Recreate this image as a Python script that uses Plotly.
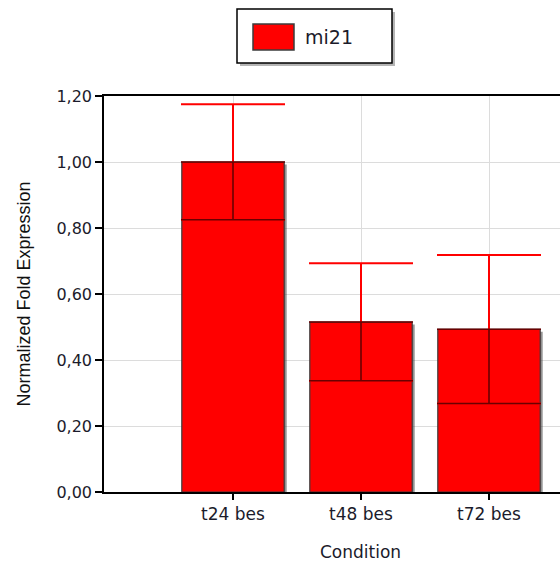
import plotly.graph_objects as go

# Normalized fold expression of mi21 per condition, with symmetric errors
conditions = ["t24 bes", "t48 bes", "t72 bes"]
fold_expression = [1.00, 0.515, 0.493]
fold_error = [0.175, 0.178, 0.225]
series_name = "mi21"

y_ticks = [0.0, 0.2, 0.4, 0.6, 0.8, 1.0, 1.2]

W, H = 560, 564
L, R, T, B = 104, 0, 96, 72
plot_w = W - L - R
plot_h = H - T - B
px_x = 128.0          # pixels per category step
px_y = plot_h / 1.2   # pixels per unit on the y axis
first_center_px = 233  # pixel column of the first category


def px_to_paper_x(px):
    return (px - L) / plot_w


def px_to_paper_y(py):
    return (H - B - py) / plot_h


x_idx = list(range(len(conditions)))
bar_w = 0.8
x_left = -(first_center_px - L) / px_x
x_right = x_left + plot_w / px_x

fig = go.Figure()

# soft drop shadow behind each bar
fig.add_trace(go.Bar(
    x=x_idx,
    y=[v - 2.5 / px_y for v in fold_expression],
    width=bar_w,
    offset=-bar_w / 2 + 2.5 / px_x,
    marker=dict(color="rgba(60,60,60,0.55)", line=dict(width=0)),
    hoverinfo="skip",
    showlegend=False,
))

# the bars with red error whiskers
fig.add_trace(go.Bar(
    x=x_idx,
    y=fold_expression,
    width=bar_w,
    name=series_name,
    marker=dict(color="#ff0000", line=dict(color="#3c3c3c", width=1.2)),
    error_y=dict(type="data", array=fold_error, visible=True,
                 color="#ff0000", thickness=2, width=52),
    showlegend=False,
))

# lower half of each whisker reads dark against the red fill
fig.add_trace(go.Scatter(
    x=x_idx,
    y=fold_expression,
    mode="markers",
    marker=dict(size=1, color="rgba(0,0,0,0)"),
    error_y=dict(type="data", symmetric=False,
                 array=[0] * len(fold_error), arrayminus=fold_error,
                 visible=True, color="#6a0000", thickness=1.6, width=52),
    hoverinfo="skip",
    showlegend=False,
))

font_main = "DejaVu Sans"
text_col = "#1b1b2b"

fig.update_layout(
    width=W, height=H,
    margin=dict(l=L, r=R, t=T, b=B, pad=0),
    paper_bgcolor="white",
    plot_bgcolor="white",
    barmode="overlay",
    separators=",.",
    showlegend=False,
    xaxis=dict(
        range=[x_left, x_right],
        tickmode="array",
        tickvals=x_idx,
        ticktext=conditions,
        ticks="outside", ticklen=6, tickwidth=1.5, tickcolor="black",
        showline=True, linecolor="black", linewidth=1.5, mirror=True,
        showgrid=True, gridcolor="#dcdcdc", gridwidth=1,
        zeroline=False,
        tickfont=dict(family=font_main, size=17, color=text_col),
        fixedrange=True,
    ),
    yaxis=dict(
        range=[0, 1.2],
        tickmode="array",
        tickvals=y_ticks,
        tickformat=".2f",
        ticks="outside", ticklen=7, tickwidth=1.5, tickcolor="black",
        showline=True, linecolor="black", linewidth=1.5,
        showgrid=True, gridcolor="#dcdcdc", gridwidth=1,
        zeroline=False,
        tickfont=dict(family=font_main, size=16, color=text_col),
        title=dict(text="Normalized Fold Expression",
                   font=dict(family="Liberation Sans", size=18, color="#111"),
                   standoff=21),
    ),
)

# x axis title
fig.add_annotation(
    text="Condition", xref="paper", yref="paper",
    x=px_to_paper_x(360), y=px_to_paper_y(552),
    showarrow=False, xanchor="center", yanchor="middle",
    font=dict(family=font_main, size=17, color=text_col),
)

# legend box with shadow
bx0, bx1, by0, by1 = 237, 392, 9, 63
fig.add_shape(type="rect", xref="paper", yref="paper",
              x0=px_to_paper_x(bx0 + 3), x1=px_to_paper_x(bx1 + 3),
              y0=px_to_paper_y(by0 + 3), y1=px_to_paper_y(by1 + 3),
              fillcolor="rgba(90,90,90,0.45)", line=dict(width=0), layer="above")
fig.add_shape(type="rect", xref="paper", yref="paper",
              x0=px_to_paper_x(bx0), x1=px_to_paper_x(bx1),
              y0=px_to_paper_y(by0), y1=px_to_paper_y(by1),
              fillcolor="white", line=dict(color="black", width=1.5), layer="above")
fig.add_shape(type="rect", xref="paper", yref="paper",
              x0=px_to_paper_x(253), x1=px_to_paper_x(294),
              y0=px_to_paper_y(24), y1=px_to_paper_y(50),
              fillcolor="#ff0000", line=dict(color="#3c3c3c", width=1.5), layer="above")
fig.add_annotation(
    text=series_name, xref="paper", yref="paper",
    x=px_to_paper_x(303), y=px_to_paper_y(37),
    showarrow=False, xanchor="left", yanchor="middle",
    font=dict(family=font_main, size=19, color=text_col),
)

fig.write_html("out.html")
